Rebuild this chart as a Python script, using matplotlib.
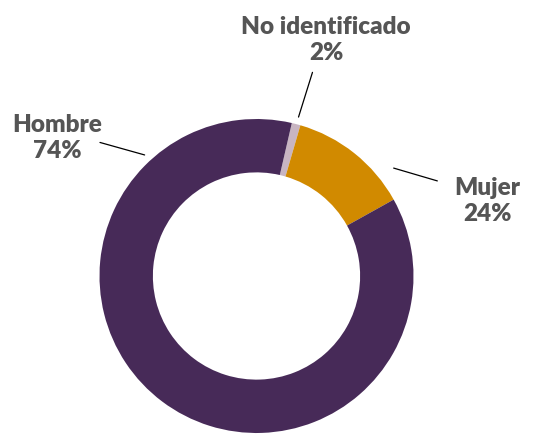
import matplotlib.pyplot as plt

# data
categories = ["No identificado", "Mujer", "Hombre"]
pct_labels = ["2%", "24%", "74%"]
# arc sizes as drawn in the picture (share of the ring)
slice_values = [0.9, 12.4, 86.7]
colors = ["#c8b5c2", "#d18a00", "#472a58"]

W, H = 538, 439
fig = plt.figure(figsize=(W / 100, H / 100), dpi=100)
ax = fig.add_axes([0, 0, 1, 1])

cx, cy, r = 256.5, H - 277, 157
ax.pie(slice_values, colors=colors, startangle=77, counterclock=False,
       center=(cx, cy), radius=r, frame=True,
       wedgeprops=dict(width=r * 0.34, linewidth=0))
ax.set_xlim(0, W)
ax.set_ylim(0, H)
ax.set_aspect("equal")
ax.axis("off")

txt = dict(ha="center", va="center", fontsize=17.5, fontweight="heavy",
           color="#555555", family=["Lato", "DejaVu Sans"], linespacing=1.25)
line = dict(arrowstyle="-", color="black", lw=0.9)

# label positions in pixels (x, y from top), line from label side to ring
lab_pos = [(326, 40), (487, 201), (57, 138)]
line_from = [(313.3, 70.7), (440, 182.7), (97.3, 142.7)]
line_to = [(297.7, 120.7), (391, 168.3), (147.3, 156.7)]

for name, pct, (lx, ly), p0, p1 in zip(categories, pct_labels, lab_pos, line_from, line_to):
    ax.text(lx, H - ly, name + "\n" + pct, **txt)
    ax.annotate("", xy=(p1[0], H - p1[1]), xytext=(p0[0], H - p0[1]), arrowprops=line)

fig.savefig("out.png", dpi=100)
